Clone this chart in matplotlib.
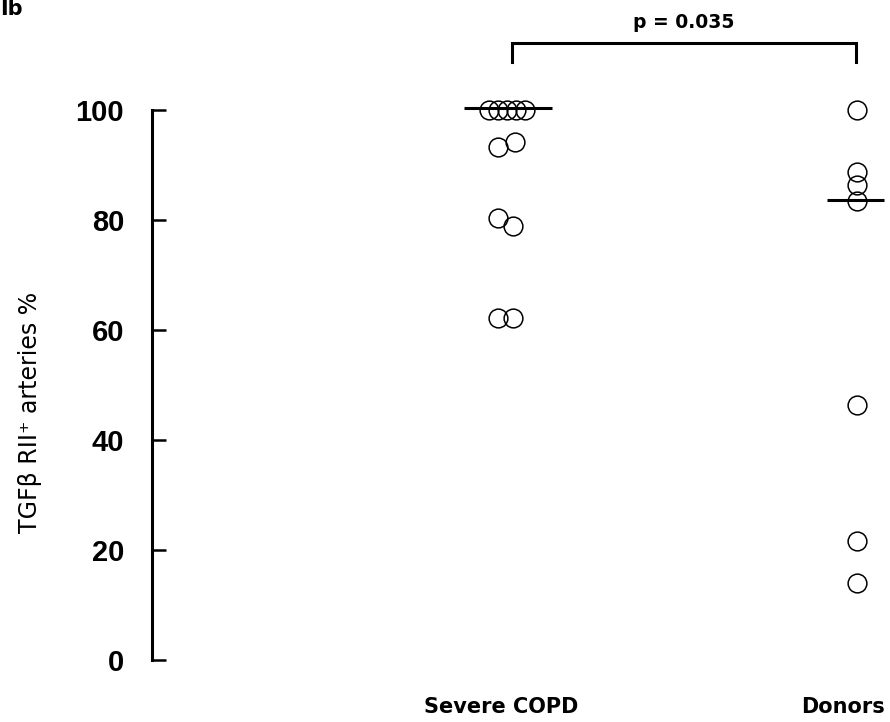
import matplotlib
matplotlib.use('Agg')
import matplotlib.pyplot as plt
import numpy as np

# ---------------- data ----------------
groups = ['Severe COPD', 'Donors']
copd_values = [100, 100, 100, 100, 100, 94.2, 93.3, 80.4, 79.0, 62.2, 62.2]
donor_values = [100, 88.8, 86.3, 83.5, 46.3, 21.7, 14.0]
medians = [100.3, 83.6]          # horizontal lines
yticks = [0, 20, 40, 60, 80, 100]
ylabel = 'TGFβ RII⁺ arteries %'
p_text = 'p = 0.035'
panel_label = 'Ib'

# ---------------- layout ----------------
W, H = 890, 722
fig = plt.figure(figsize=(W / 100, H / 100), dpi=100)
ax_l, ax_r, ax_t, ax_b = 152, 890, 110, 660
ax = fig.add_axes([ax_l / W, (H - ax_b) / H, (ax_r - ax_l) / W, (ax_b - ax_t) / H])

px_per_unit = 350.0
cat_px = [507, 857]
xpos = [1, 2]
ax.set_xlim(1 - (cat_px[0] - ax_l) / px_per_unit, 2 + (ax_r - cat_px[1]) / px_per_unit)
ax.set_ylim(0, 100)

# horizontal scatter offsets (pixels) for overlapping points
copd_jitter_px = [-18, -9, 0, 9, 18, 8, -9, -9, 6, -9, 6]
donor_jitter_px = [0, 0, 0, 0, 0, 0, 0]
median_extent_px = [(-43, 45), (-30, 27)]

series = [(copd_values, copd_jitter_px), (donor_values, donor_jitter_px)]
for i, (vals, jit) in enumerate(series):
    x = xpos[i] + np.array(jit) / px_per_unit
    ax.plot(x, vals, 'o', ms=13.5, mfc='none', mec='black', mew=1.1,
            clip_on=False, zorder=3)
    med = medians[i]
    lo, hi = median_extent_px[i]
    ax.plot([xpos[i] + lo / px_per_unit, xpos[i] + hi / px_per_unit], [med, med],
            color='black', lw=2.2, clip_on=False, zorder=4, solid_capstyle='butt')

# significance bracket
bx0 = xpos[0] + 5 / px_per_unit
bx1 = xpos[1] - 1 / px_per_unit
ax.plot([bx0, bx0, bx1, bx1], [108.7, 112.2, 112.2, 108.7], color='black', lw=2.2,
        clip_on=False, solid_joinstyle='miter')
ax.text((bx0 + bx1) / 2, 114.9, p_text, ha='center', va='baseline',
        fontsize=13.5, fontweight='bold', family='DejaVu Sans')

# category labels
label_offsets_px = [-6, -14]
for i, g in enumerate(groups):
    ax.text(xpos[i] + label_offsets_px[i] / px_per_unit, -9.6, g, ha='center',
            va='baseline', fontsize=15, fontweight='bold', family='DejaVu Sans',
            clip_on=False)

# axes styling
for s in ['top', 'right', 'bottom']:
    ax.spines[s].set_visible(False)
ax.spines['left'].set_linewidth(2.2)
ax.set_xticks([])
ax.set_yticks(yticks)
ax.set_yticklabels([str(t) for t in yticks], fontsize=21, fontweight='bold',
                   family='Liberation Sans')
ax.tick_params(axis='y', direction='in', length=10, width=1.8, pad=20)

fig.text(30 / W, 1 - 412 / H, ylabel, rotation=90, ha='center', va='center',
         fontsize=17, family='DejaVu Sans')
fig.text(0.0, 1 - 15 / H, panel_label, ha='left', va='baseline', fontsize=15,
         fontweight='bold', family='DejaVu Sans')

fig.savefig('out.png', dpi=100)
